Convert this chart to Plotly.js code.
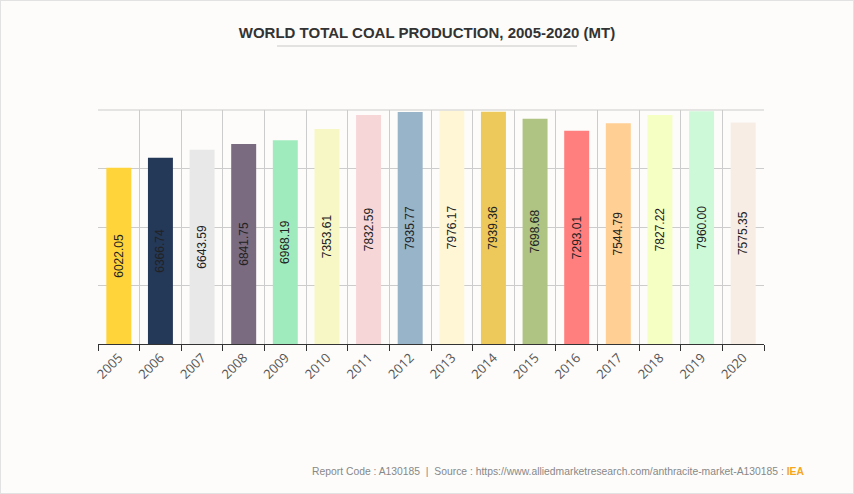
<!DOCTYPE html>
<html>
<head>
<meta charset="utf-8">
<script src="https://cdn.plot.ly/plotly-3.0.1.min.js"></script>
<style>
  html, body { margin: 0; padding: 0; background: #fdfcfa; }
  #chart { width: 852px; height: 492px; border: 1px solid #e2e2e2; }
</style>
</head>
<body>
<div id="chart"></div>
<script>
const years = ['2005','2006','2007','2008','2009','2010','2011','2012','2013','2014','2015','2016','2017','2018','2019','2020'];
const production = [6022.05, 6366.74, 6643.59, 6841.75, 6968.19, 7353.61, 7832.59, 7935.77, 7976.17, 7939.36, 7698.68, 7293.01, 7544.79, 7827.22, 7960.00, 7575.35];
const barColors = ['#FFD43B','#243858','#E8E8E8','#7A6B80','#A0EBBE','#F7F7C6','#F7D6D8','#98B4C8','#FFF6D6','#EDC85A','#AFC383','#FF7F7F','#FFCF94','#F5FFC3','#CEF9D8','#F7EDE5'];
const titleText = 'WORLD TOTAL COAL PRODUCTION, 2005-2020 (MT)';
const footerText = 'Report Code : A130185  |  Source : https://www.alliedmarketresearch.com/anthracite-market-A130185 : <span style="color:#f5a623;font-weight:bold">IEA</span>';

const trace = {
  type: 'bar',
  x: years,
  y: production,
  text: production.map(v => v.toFixed(2)),
  textposition: 'inside',
  insidetextanchor: 'middle',
  textangle: -90,
  insidetextfont: { family: 'Liberation Sans, Arial, sans-serif', size: 12, color: '#222' },
  marker: { color: barColors, line: { width: 0 } },
  hoverinfo: 'x+y',
  cliponaxis: false
};

const layout = {
  width: 852, height: 492,
  margin: { l: 97, r: 89, t: 109, b: 149 },
  paper_bgcolor: '#fdfcfa',
  plot_bgcolor: '#fdfcfa',
  bargap: 0.4,
  showlegend: false,
  title: {
    text: '<b>' + titleText + '</b>',
    x: 0.5, xref: 'container', xanchor: 'center',
    y: 1 - 32 / 492, yref: 'container', yanchor: 'middle',
    font: { family: 'Liberation Sans, Arial, sans-serif', size: 15, color: '#333' }
  },
  xaxis: {
    type: 'category',
    tickson: 'boundaries',
    showgrid: true,
    gridcolor: '#cccccc',
    gridwidth: 1,
    ticks: 'outside',
    ticklen: 6,
    tickcolor: '#333',
    showline: true,
    linecolor: '#333',
    linewidth: 1,
    tickangle: -45,
    automargin: false,
    tickfont: { family: 'Open Sans, sans-serif', size: 13, color: '#555' }
  },
  yaxis: {
    range: [0, 8000],
    dtick: 2000,
    showticklabels: false,
    showgrid: true,
    gridcolor: '#cccccc',
    gridwidth: 1,
    zeroline: false,
    ticks: '',
    fixedrange: true
  },
  shapes: [
    { type: 'line', xref: 'paper', yref: 'paper', x0: 0.2688, x1: 0.7192, y0: 1.2735, y1: 1.2735,
      line: { color: '#c8c8c8', width: 1 } },
    { type: 'line', xref: 'paper', yref: 'paper', x0: 0, x1: 1, y0: 1, y1: 1,
      line: { color: '#cccccc', width: 1 } }
  ],
  annotations: [
    { text: footerText, xref: 'paper', yref: 'paper', x: 1.063, xanchor: 'right',
      y: -0.543, yanchor: 'middle', showarrow: false,
      font: { family: 'Liberation Sans, Arial, sans-serif', size: 10.35, color: '#888' } }
  ]
};

Plotly.newPlot('chart', [trace], layout, { displayModeBar: false, staticPlot: true });
</script>
</body>
</html>
